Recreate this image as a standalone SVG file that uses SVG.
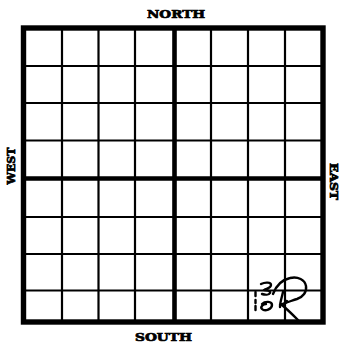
<svg xmlns="http://www.w3.org/2000/svg" width="340" height="344" viewBox="0 0 340 344">
<style>
.thin{stroke:#000;stroke-width:2.2;fill:none}
.mid{stroke:#000;stroke-width:4.6;fill:none}
.frame{stroke:#000;stroke-width:5.4;fill:none}
.lbl{font-family:"DejaVu Serif","Liberation Serif",serif;font-weight:bold;font-size:11px;fill:#000;stroke:#000;stroke-width:0.7}
.ink{stroke:#000;stroke-width:2.4;fill:none;stroke-linecap:round;stroke-linejoin:round}
</style>
<rect width="340" height="344" fill="#fff"/>
<g id="grid">
<path class="thin" d="M62,28V322M98.5,28V322M135,28V322M211,28V322M248,28V322M285,28V322"/>
<path class="thin" d="M23.5,66H323M23.5,103H323M23.5,140.5H323M23.5,217H323M23.5,254H323M23.5,290.5H323"/>
<path class="mid" d="M174.5,28V322M23.5,178.5H323"/>
<rect class="frame" x="23.5" y="28" width="299.5" height="294"/>
</g>
<g id="labels">
<text id="north" class="lbl" x="176" y="18" text-anchor="middle" textLength="58" lengthAdjust="spacingAndGlyphs">NORTH</text>
<text id="south" class="lbl" x="163.5" y="341" text-anchor="middle" textLength="57" lengthAdjust="spacingAndGlyphs">SOUTH</text>
<text id="west" class="lbl" transform="translate(15,166) rotate(-90)" x="0" y="0" text-anchor="middle" textLength="37" lengthAdjust="spacingAndGlyphs">WEST</text>
<text id="east" class="lbl" transform="translate(330,181.5) rotate(90)" x="0" y="0" text-anchor="middle" textLength="37" lengthAdjust="spacingAndGlyphs">EAST</text>
</g>
<g id="handwriting">
<path class="ink" d="M255.5,292v4M255.5,300v3M255.5,306v4"/>
<path class="ink" d="M261,284c4,-2 10,-2 10,1c0,3 -5,4 -7,5c3,0 7,1 6,3c-1,2 -5,2 -8,1"/>
<path class="ink" d="M262,304c3,-3 10,-3 10,1c0,4 -7,7 -10,4c-2,-2 1,-5 4,-5"/>
<path class="ink" d="M273,294c3,-8 8,-14 17,-16c8,-2 15,2 16,8c1,6 -3,11 -9,13c-4,1 -8,3 -12,4"/>
<path class="ink" d="M283,292c-1,5 -3,10 -3,15M280,305c6,-2 9,-4 6,-4M282,305c6,5 11,10 16,15"/>
</g>
</svg>
